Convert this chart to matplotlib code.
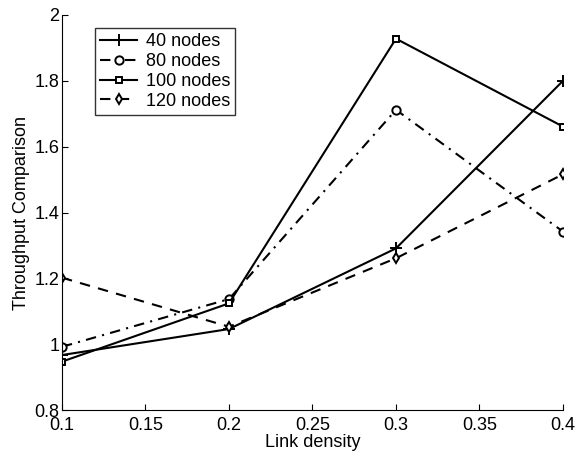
import numpy as np
import matplotlib.pyplot as plt

plt.rcParams['font.family'] = ['Liberation Sans', 'DejaVu Sans']

# link density values
density = [0.1, 0.2, 0.3, 0.4]

# throughput comparison per network size
tp_40 = [0.967, 1.046, 1.291, 1.80]
tp_80 = [0.992, 1.137, 1.712, 1.342]
tp_100 = [0.947, 1.124, 1.928, 1.661]
tp_120 = [1.202, 1.053, 1.261, 1.516]

labels = ['40 nodes', '80 nodes', '100 nodes', '120 nodes']

fig = plt.figure(figsize=(5.76, 4.53), dpi=100)
ax = fig.add_axes([0.1076, 0.0949, 0.8698, 0.872])

ax.plot(density, tp_40, color='black', lw=1.5, ls='-', marker='+', ms=8, mew=1.4, label=labels[0])
ax.plot(density, tp_80, color='black', lw=1.5, ls=(0, (5, 3, 1, 3)), marker='o', ms=6,
        mfc='white', mew=1.4, label=labels[1])
ax.plot(density, tp_100, color='black', lw=1.5, ls='-', marker='s', ms=4.5,
        mfc='white', mew=1.4, label=labels[2])
ax.plot(density, tp_120, color='black', lw=1.5, ls=(0, (5, 4)), marker='d', ms=5.5,
        mfc='white', mew=1.4, label=labels[3])

ax.set_xlim(0.1, 0.4)
ax.set_ylim(0.8, 2.0)
ax.set_xticks([0.1, 0.15, 0.2, 0.25, 0.3, 0.35, 0.4])
ax.set_xticklabels(['0.1', '0.15', '0.2', '0.25', '0.3', '0.35', '0.4'])
ax.set_yticks([0.8, 1.0, 1.2, 1.4, 1.6, 1.8, 2.0])
ax.set_yticklabels(['0.8', '1', '1.2', '1.4', '1.6', '1.8', '2'])

ax.spines['top'].set_visible(False)
ax.spines['right'].set_visible(False)
ax.tick_params(direction='in', length=4, labelsize=13)
ax.tick_params(axis='x', pad=5)
ax.tick_params(axis='y', pad=2)

ax.set_xlabel('Link density', fontsize=13, labelpad=0)
ax.set_ylabel('Throughput Comparison', fontsize=13, labelpad=3)

leg = ax.legend(loc='upper left', bbox_to_anchor=(0.066, 0.967), fontsize=13,
                frameon=True, fancybox=False, edgecolor='black', handlelength=2.0,
                borderpad=0.3, labelspacing=0.15, handletextpad=0.5, borderaxespad=0)
leg.get_frame().set_linewidth(1.0)

fig.savefig('out.png', dpi=100)
